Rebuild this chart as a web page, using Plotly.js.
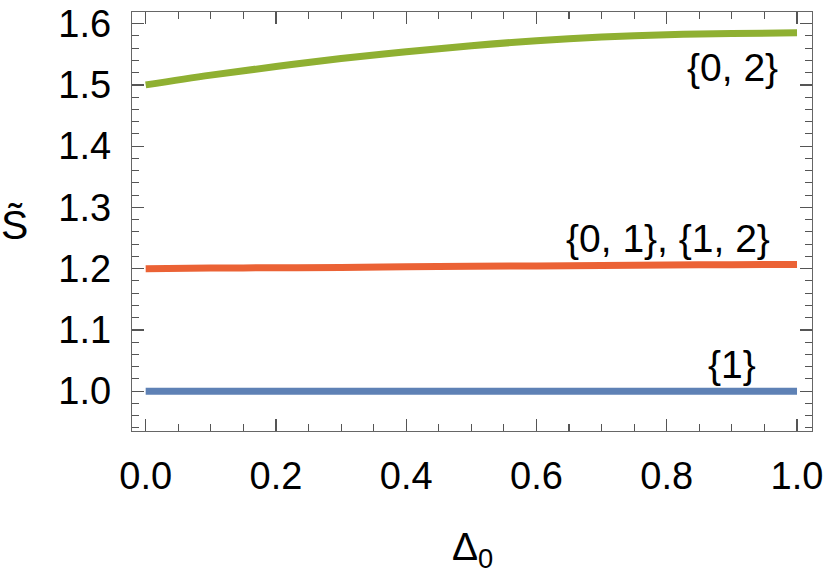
<!DOCTYPE html>
<html>
<head>
<meta charset="utf-8">
<script src="https://cdn.plot.ly/plotly-3.0.1.min.js"></script>
<style>
  body { margin: 0; background: #fff; }
  #chart { width: 830px; height: 575px; }
</style>
</head>
<body>
<div id="chart"></div>
<script>
// values
var delta0 = [ 0.0, 0.1, 0.2, 0.3, 0.4, 0.5, 0.6, 0.7, 0.8, 0.9, 1.0 ];
var sOne = [ 1.0, 1.0, 1.0, 1.0, 1.0, 1.0, 1.0, 1.0, 1.0, 1.0, 1.0 ];
var sZeroOne = [ 1.200, 1.201, 1.2015, 1.202, 1.203, 1.204, 1.2045, 1.205, 1.206, 1.2065, 1.207 ];
var sZeroTwo = [ 1.500, 1.516, 1.530, 1.543, 1.554, 1.564, 1.572, 1.578, 1.582, 1.584, 1.585 ];

var seriesNames = [ '{1}', '{0, 1}, {1, 2}', '{0, 2}' ];
var seriesColors = [ '#5E81B5', '#EB6235', '#8FB032' ];
var labelX = [ 0.900, 0.802, 0.901 ];
var labelY = [ 1.043, 1.250, 1.528 ];

var allSeries = [ sOne, sZeroOne, sZeroTwo ];

var traces = allSeries.map( function ( ys, i ) {
    return {
        x: delta0,
        y: ys,
        name: seriesNames[ i ],
        type: 'scatter',
        mode: 'lines',
        line: { color: seriesColors[ i ], width: 7, shape: 'spline' },
        hoverinfo: 'skip'
    };
});

var fontFamily = 'Liberation Sans, Arial, sans-serif';
var tickFont = { family: fontFamily, size: 38, color: '#000' };

var annotations = seriesNames.map( function ( name, i ) {
    return {
        x: labelX[ i ], y: labelY[ i ], xref: 'x', yref: 'y',
        text: name, showarrow: false,
        xanchor: 'center', yanchor: 'middle',
        font: { family: fontFamily, size: 39, color: '#000' }
    };
});

// axis titles as plain annotations (y title is horizontal in the original)
var plotLeft = 132, plotRight = 812, plotTop = 11.5, plotBottom = 431;

annotations.push({
    x: ( 14 - plotLeft ) / ( plotRight - plotLeft ),
    y: ( plotBottom - 225 ) / ( plotBottom - plotTop ),
    xref: 'paper', yref: 'paper',
    text: 'S\u0303', showarrow: false, xanchor: 'center', yanchor: 'middle',
    font: { family: fontFamily, size: 41, color: '#000' }
});
annotations.push({
    x: 0.5,
    y: ( plotBottom - 550 ) / ( plotBottom - plotTop ),
    xref: 'paper', yref: 'paper',
    text: '\u0394<sub>0</sub>', showarrow: false, xanchor: 'center', yanchor: 'middle',
    font: { family: fontFamily, size: 39, color: '#000' }
});

var frameAxis = {
    showline: true, linecolor: '#666', linewidth: 1.3, mirror: 'ticks',
    ticks: 'inside', ticklen: 12, tickwidth: 1.3, tickcolor: '#555',
    showgrid: false, zeroline: false,
    tickfont: tickFont
};

var layout = {
    width: 830, height: 575,
    margin: { l: plotLeft, r: 830 - plotRight, t: plotTop, b: 575 - plotBottom },
    paper_bgcolor: '#fff', plot_bgcolor: '#fff',
    showlegend: false,
    xaxis: Object.assign( {}, frameAxis, {
        range: [ -0.021, 1.023 ],
        tick0: 0, dtick: 0.2, tickformat: '.1f',
        ticklabelstandoff: 11,
        minor: { dtick: 0.05, ticks: 'inside', ticklen: 7, tickwidth: 1.1, tickcolor: '#555' }
    }),
    yaxis: Object.assign( {}, frameAxis, {
        range: [ 0.935, 1.619 ],
        tick0: 1.0, dtick: 0.1, tickformat: '.1f',
        ticklabelstandoff: 12,
        minor: { dtick: 0.02, ticks: 'inside', ticklen: 7, tickwidth: 1.1, tickcolor: '#555' }
    }),
    annotations: annotations
};

Plotly.newPlot( 'chart', traces, layout, { displayModeBar: false, staticPlot: true } );
</script>
</body>
</html>
